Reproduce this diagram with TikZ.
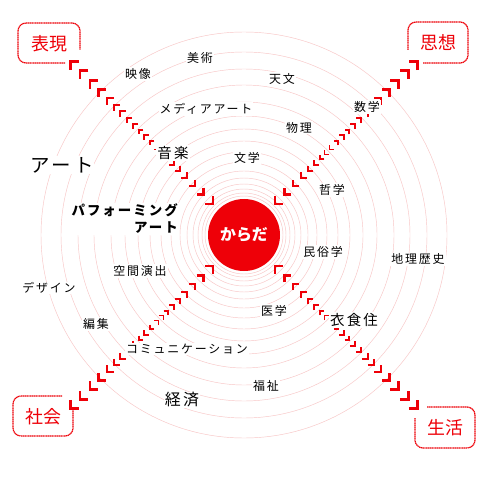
\documentclass[tikz,border=0pt]{standalone}
\usepackage{fontspec}
\newfontfamily\jp[LetterSpace=15]{Noto Sans CJK JP}
\newfontfamily\jpn{Noto Sans CJK JP}
\usetikzlibrary{calc}
\definecolor{kred}{RGB}{238,0,8}
\definecolor{ring}{RGB}{248,198,198}
\begin{document}
\begin{tikzpicture}[x=1bp,y=-1bp,
  lbl/.style={font=\jp\fontsize{12}{14}\selectfont, fill=white, inner sep=1bp, text=black},
  lblm/.style={lbl, font=\jp\fontsize{14.5}{16}\selectfont},
  lblb/.style={lbl, font=\jp\fontsize{16}{18}\selectfont},
  boxtxt/.style={font=\jpn\fontsize{18}{20}\selectfont, text=kred, inner sep=0},
  boxline/.style={draw=kred, line width=1.2bp, dash pattern=on 1.3bp off 0.5bp, rounded corners=8bp},
  ringline/.style={draw=ring, line width=0.45bp},
  chev/.style={draw=kred, line join=miter, line cap=butt}]
\useasboundingbox (0,0) rectangle (480,480);
\fill[white] (0,0) rectangle (480,480);
\coordinate (c) at (244,235);
% concentric rings
\foreach \r in {39,42,46,51,57,64,73,83,94,106,119,133,150,166,183,203}
  \draw[ringline] (c) circle[radius=\r];
% chevrons along the diagonals
\foreach \ang in {225,315,135,45} {
  \pgfmathsetmacro{\aa}{\ang+135}
  \pgfmathsetmacro{\ab}{\ang+225}
  \pgfmathsetmacro{\ac}{\ang+45}
  \pgfmathsetmacro{\ad}{\ang-45}
  % outward pointing (outer half)
  \foreach \d/\L/\w in {133/4.3/1.6,141/4.5/1.7,149/4.8/1.8,157/5.1/1.9,166/5.5/2.0,175/5.9/2.1,184/6.3/2.3,194/6.8/2.4,206/7.3/2.6,218/7.8/2.7,232/8.3/2.9,246/9/3.0}
    \draw[chev, line width=\w bp] ($(c)+(\ang:\d)+(\aa:\L)$) -- ($(c)+(\ang:\d)$) -- ($(c)+(\ang:\d)+(\ab:\L)$);
  % inward pointing (inner half)
  \foreach \d/\L/\w in {44/7.5/2.7,57/7/2.5,69/6.5/2.3,80/6/2.1,90/5.5/2.0,99/5/1.8,107/4.7/1.7,114/4.4/1.6,121/4.2/1.5}
    \draw[chev, line width=\w bp] ($(c)+(\ang:\d)+(\ac:\L)$) -- ($(c)+(\ang:\d)$) -- ($(c)+(\ang:\d)+(\ad:\L)$);
}
% centre
\node[circle, fill=kred, minimum size=72bp, inner sep=0, text=white, font=\jpn\bfseries\fontsize{16}{18}\selectfont] (body) at (c) {からだ};
% corner boxes
\draw[boxline] (65,63) -- (18,63) -- (18,23) -- (80,23) -- (80,50);
\node[boxtxt] (hyogen) at (49,44) {表現};
\draw[boxline] (408,50) -- (408,22) -- (468,22) -- (468,63) -- (423,63);
\node[boxtxt] (shiso) at (438,43) {思想};
\draw[boxline] (62,396) -- (13,396) -- (13,436) -- (73,436) -- (73,408);
\node[boxtxt] (shakai) at (43,417) {社会};
\draw[boxline] (427,407) -- (475,407) -- (475,448) -- (415,448) -- (415,418);
\node[boxtxt] (seikatsu) at (445,428) {生活};
% labels
\node[lbl] (bijutsu) at (200,58) {美術};
\node[lbl] (eizo) at (138,74) {映像};
\node[lbl] (tenmon) at (282,79) {天文};
\node[lbl] (media) at (206,109) {メディアアート};
\node[lbl] (butsuri) at (299,128) {物理};
\node[lbl] (sugaku) at (367,107) {数学};
\node[lblm] (ongaku) at (173,153) {音楽};
\node[lbl] (bungaku) at (247,158) {文学};
\node[lbl] (tetsugaku) at (332,190) {哲学};
\node[lbl, font=\jp\fontsize{19.5}{21}\selectfont] (art) at (62,165) {アート};
\node[lbl, font=\jp\bfseries\fontsize{13.5}{17}\selectfont, align=right, anchor=east] (perf) at (179,219) {パフォーミング\\アート};
\node[lbl] (minzoku) at (323,252) {民俗学};
\node[lbl] (chiri) at (418,259) {地理歴史};
\node[lbl] (kukan) at (140,271) {空間演出};
\node[lbl] (design) at (49,288) {デザイン};
\node[lbl] (henshu) at (96,324) {編集};
\node[lbl] (igaku) at (274,311) {医学};
\node[lblm] (ishokuju) at (354,320) {衣食住};
\node[lbl] (comm) at (187,349) {コミュニケーション};
\node[lblb] (keizai) at (182,400) {経済};
\node[lbl] (fukushi) at (266,386) {福祉};
\end{tikzpicture}
\end{document}
